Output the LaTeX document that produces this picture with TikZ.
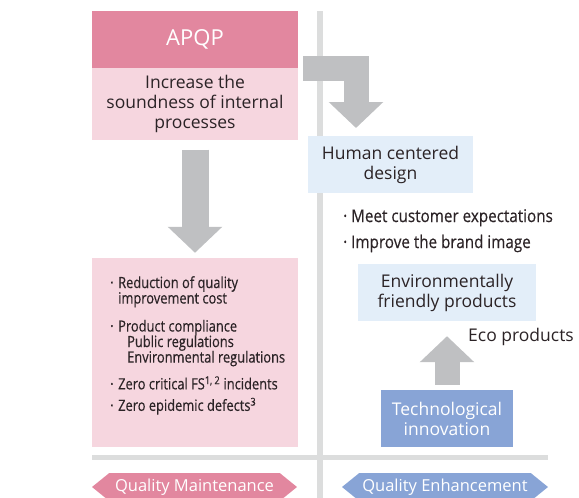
\documentclass[tikz,border=0pt]{standalone}
\usepackage{fontspec}
\setmainfont{Open Sans}
\newfontfamily\condfont[FakeStretch=0.83,FakeBold=0.4]{Open Sans}
\newfontfamily\aimcondfont[FakeStretch=0.87,FakeBold=0.4]{Open Sans}
\usepackage{tikz}
\usetikzlibrary{arrows.meta,positioning,shapes.symbols}
\definecolor{apqppink}{HTML}{E2879F}
\definecolor{lightpink}{HTML}{F6D6DF}
\definecolor{paleblue}{HTML}{E3EEF9}
\definecolor{midblue}{HTML}{88A4D6}
\definecolor{arrowgray}{HTML}{BFC0C2}
\definecolor{linegray}{HTML}{DCDDDD}
\definecolor{inkdark}{HTML}{2B2326}
\newcommand{\boxfont}{\fontsize{17.5}{20}\selectfont}
\newcommand{\listfont}{\condfont\fontsize{15.5}{15.5}\selectfont}
\newcommand{\aimfont}{\aimcondfont\fontsize{17.5}{18}\selectfont}
\newcommand{\bul}{\makebox[8pt][l]{·}}
\tikzset{box/.style={rectangle,inner sep=0pt,align=center,font=\boxfont,text=inkdark},
  pinkbox/.style={box,fill=lightpink},
  bluebox/.style={box,fill=paleblue},
  tagbox/.style={signal,signal to=west and east,signal pointer angle=78,inner sep=0pt,
    minimum height=28pt,text=white,font=\fontsize{16.5}{18}\selectfont},
  divider/.style={linegray,line width=5.5pt},
  blockarr/.style={arrowgray,line width=25pt,-{Triangle[width=53pt,length=26pt]}}}

\begin{document}
\begin{tikzpicture}[x=1pt,y=-1pt]
\useasboundingbox (0,0) rectangle (579,498);
% dividing lines
\draw[divider] (320,11) -- (320,498);
\draw[divider] (92,457.5) -- (548,457.5);
% left column
\node[box,fill=apqppink,text=white,font=\fontsize{22}{24}\selectfont,
  minimum width=206pt,minimum height=57pt] (apqp) at (195,39.5) {APQP};
\node[pinkbox,minimum width=206pt,minimum height=72pt,below=0pt of apqp] (sound)
  {Increase the\\soundness of internal\\processes};
\node[pinkbox,minimum width=206pt,minimum height=189pt] (results) at (195,352.5) {};
\node[anchor=north west,align=left,inner sep=0pt,font=\listfont,text=inkdark] (resultstxt)
  at (110,276) {\bul Reduction of quality\\
  \hspace*{8pt}improvement cost\\[12.5pt]
  \bul Product compliance\\
  \hspace*{17pt}Public regulations\\
  \hspace*{17pt}Environmental regulations\\[9pt]
  \bul Zero critical FS\textsuperscript{1, 2} incidents\\[6pt]
  \bul Zero epidemic defects\textsuperscript{3}};
% right column
\node[bluebox,minimum width=165pt,minimum height=57pt] (human) at (390.5,164.5)
  {Human centered\\design};
\node[anchor=north west,align=left,inner sep=0pt,font=\aimfont,text=inkdark] (aims)
  at (343,209) {\bul Meet customer expectations\\[8pt]
  \bul Improve the brand image};
\node[bluebox,minimum width=178pt,minimum height=57pt] (env) at (447,292.5)
  {Environmentally\\friendly products};
\node[box,fill=midblue,text=white,minimum width=132pt,minimum height=57pt] (tech)
  at (447,418.5) {Technological\\innovation};
\node[box] (eco) at (521,337) {Eco products};
% arrows
\coordinate (elbowstart) at (303,68);
\coordinate (elbowend) at (356,128);
\draw[blockarr] (elbowstart) -| (elbowend);
\draw[blockarr,line width=27pt] ([yshift=-9pt]sound.south) -- ([yshift=5pt]results.north);
\draw[blockarr] ([yshift=5pt]tech.north) -- ([yshift=-15pt]env.south);
% bottom tags
\node[tagbox,fill=apqppink,minimum width=205pt] (maint) at (194.5,487) {Quality Maintenance};
\node[tagbox,fill=midblue,minimum width=206pt] (enh) at (445,487) {Quality Enhancement};
\end{tikzpicture}
\end{document}
